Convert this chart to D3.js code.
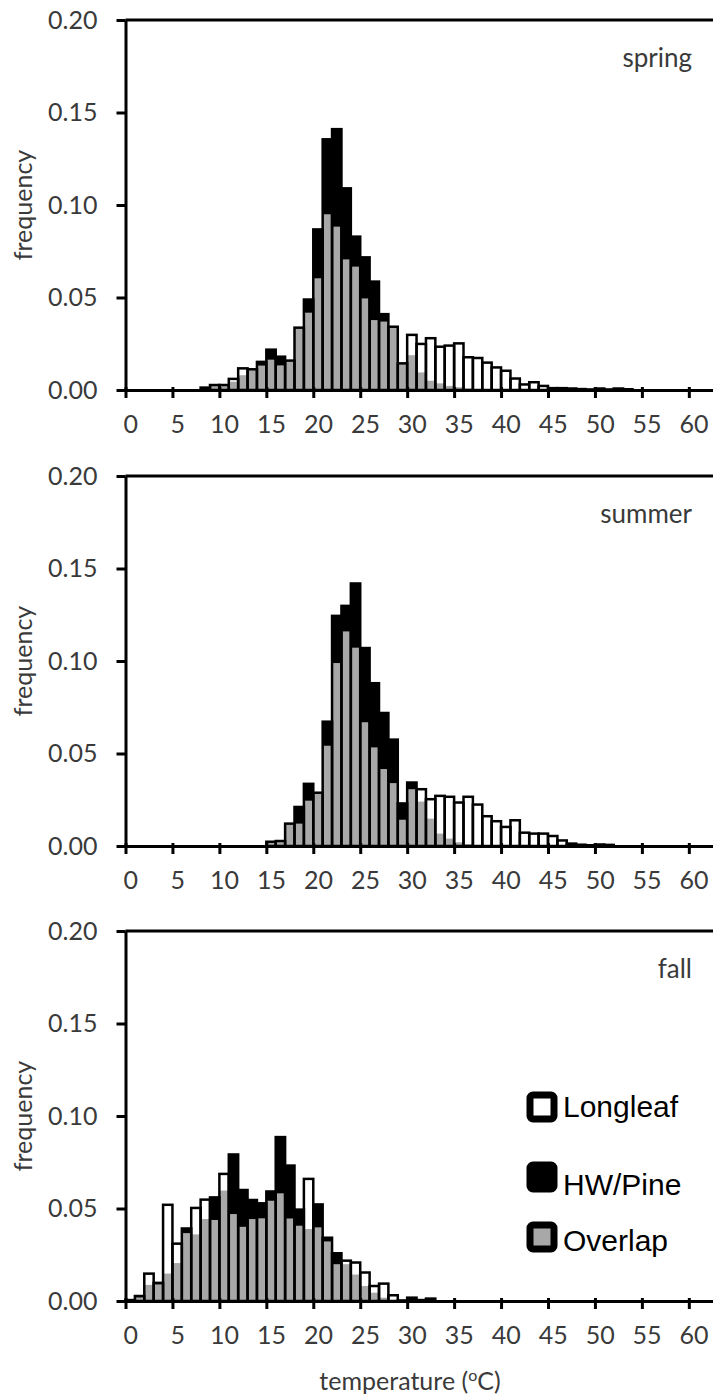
<!DOCTYPE html>
<html>
<head>
<meta charset="utf-8">
<script src="https://cdn.jsdelivr.net/npm/d3@7"></script>
<style>
  html, body { margin: 0; padding: 0; background: #fff; }
  svg { display: block; }
</style>
</head>
<body>
<svg id="chart" width="713" height="1397"></svg>
<script>
// 1 °C temperature bins: bin k covers [k, k+1)
const bins = d3.range(0, 63);

const seasons = ["spring", "summer", "fall"];

// Relative frequency per bin, Longleaf stands
const longleafSpring = [0,0,0,0,0,0,0,0,0.0013,0.0027,0.0027,0.006,0.0117,0.0112,0.0132,0.0164,0.0133,0.0159,0.0337,0.0418,0.0604,0.095,0.0883,0.0706,0.0667,0.0495,0.0378,0.037,0.0342,0.0144,0.0298,0.0249,0.028,0.0234,0.024,0.0252,0.0177,0.0173,0.0148,0.0122,0.0104,0.0062,0.003,0.0042,0.0022,0.001,0.001,0.0008,0.0005,0.0003,0.0008,0.0003,0.0008,0.0004,0,0,0,0,0,0,0,0,0];
const longleafSummer = [0,0,0,0,0,0,0,0,0,0,0,0,0,0,0,0.0023,0.0027,0.0121,0.0121,0.0245,0.0288,0.0542,0.0989,0.116,0.1072,0.0669,0.0533,0.0416,0.034,0.0142,0.0307,0.0307,0.0253,0.0271,0.0266,0.0235,0.0266,0.0224,0.0161,0.0134,0.0103,0.0139,0.0072,0.0067,0.0067,0.0054,0.003,0.0013,0.0007,0.0004,0.0008,0.0006,0,0,0,0,0,0,0,0,0,0,0];
const longleafFall = [0.0005,0.002,0.0148,0.009,0.052,0.031,0.0367,0.0503,0.0548,0.0438,0.0687,0.047,0.0401,0.0443,0.0447,0.0542,0.0582,0.0446,0.0407,0.066,0.0398,0.0322,0.0199,0.0218,0.0208,0.0154,0.0081,0.0094,0.0031,0.0003,0.0005,0.0003,0.0003,0,0,0,0,0,0,0,0,0,0,0,0,0,0,0,0,0,0,0,0,0,0,0,0,0,0,0,0,0,0];

// Relative frequency per bin, hardwood/pine stands
const hwPineSpring = [0,0,0,0,0,0,0,0,0.0013,0.0027,0.0027,0.0045,0.008,0.0112,0.0152,0.0218,0.018,0.0159,0.0337,0.0489,0.0868,0.1355,0.141,0.109,0.0829,0.0717,0.0586,0.041,0.0342,0.0144,0.0188,0.0095,0.005,0.0036,0.0022,0.0015,0.0008,0.0005,0,0,0,0,0,0,0,0,0,0,0,0,0,0,0,0,0,0,0,0,0,0,0,0,0];
const hwPineSummer = [0,0,0,0,0,0,0,0,0,0,0,0,0,0,0,0.0023,0.0027,0.0121,0.0211,0.0336,0.0288,0.0672,0.1244,0.1298,0.1419,0.107,0.088,0.0719,0.0575,0.023,0.0343,0.024,0.0148,0.0067,0.004,0.002,0.001,0.0005,0,0,0,0,0,0,0,0,0,0,0,0,0,0,0,0,0,0,0,0,0,0,0,0,0];
const hwPineFall = [0.0005,0.0027,0.0087,0.0098,0.0148,0.0205,0.0392,0.036,0.0443,0.056,0.0597,0.0792,0.06,0.0546,0.0528,0.0592,0.0886,0.0732,0.0494,0.0389,0.0522,0.0342,0.0258,0.0199,0.0143,0.0081,0.0045,0.0018,0.0005,0.0003,0.0018,0.0005,0.0013,0,0,0,0,0,0,0,0,0,0,0,0,0,0,0,0,0,0,0,0,0,0,0,0,0,0,0,0,0,0];

const longleafBySeason = [longleafSpring, longleafSummer, longleafFall];
const hwPineBySeason = [hwPineSpring, hwPineSummer, hwPineFall];

const yTicks = [0, 0.05, 0.10, 0.15, 0.20];
const xTicks = d3.range(0, 61, 5);
const legendLabels = ["Longleaf", "HW/Pine", "Overlap"];

// ---- layout ----
const svg = d3.select("#chart");
const panelTop = [20, 476, 931];
const panelH = 370;
const tickFont = "Lato, 'Open Sans', sans-serif";
const tickColor = "#3a3a3a";
const GREY = "#a8a8a8";

const x = d3.scaleLinear().domain([0, 63]).range([125.5, 717]);
const binW = x(1) - x(0);

seasons.forEach((season, si) => {
  const top = panelTop[si];
  const y = d3.scaleLinear().domain([0, 0.2]).range([top + panelH, top]);
  const g = svg.append("g").attr("class", "panel-" + season);

  const rows = bins.map(k => {
    const ll = longleafBySeason[si][k];
    const hw = hwPineBySeason[si][k];
    return { k, ll, hw, hi: Math.max(ll, hw), lo: Math.min(ll, hw) };
  }).filter(d => d.hi > 0);

  // taller of the two series: white for Longleaf, black for HW/Pine
  g.append("g").selectAll("rect").data(rows).join("rect")
    .attr("x", d => x(d.k))
    .attr("width", binW)
    .attr("y", d => y(d.hi))
    .attr("height", d => y(0) - y(d.hi))
    .attr("fill", d => d.ll > d.hw ? "#fff" : (d.hw > d.ll ? "#000" : GREY));

  // shared part of both distributions
  g.append("g").selectAll("rect").data(rows.filter(d => d.lo > 0)).join("rect")
    .attr("x", d => x(d.k))
    .attr("width", binW)
    .attr("y", d => y(d.lo))
    .attr("height", d => y(0) - y(d.lo))
    .attr("fill", GREY);

  // bar outlines
  g.append("g").selectAll("rect").data(rows).join("rect")
    .attr("x", d => x(d.k))
    .attr("width", binW)
    .attr("y", d => y(d.hi))
    .attr("height", d => y(0) - y(d.hi))
    .attr("fill", "none")
    .attr("stroke", "#000")
    .attr("stroke-width", 2.5);

  // top border of the plot area
  g.append("line")
    .attr("x1", x(0)).attr("x2", x(63))
    .attr("y1", y(0.2)).attr("y2", y(0.2))
    .attr("stroke", "#000").attr("stroke-width", 3);

  // y axis
  const ya = g.append("g")
    .attr("transform", `translate(${x(0)},0)`)
    .call(d3.axisLeft(y).tickValues(yTicks).tickFormat(d3.format(".2f"))
      .tickSize(9).tickSizeOuter(0).tickPadding(19));
  ya.select(".domain").attr("stroke-width", 3);
  ya.selectAll(".tick line").attr("stroke-width", 3);
  ya.selectAll(".tick text")
    .attr("font-family", tickFont).attr("font-size", 25)
    .attr("fill", tickColor);

  // x axis, labels centred on their bins
  const xa = g.append("g")
    .attr("transform", `translate(0,${y(0)})`)
    .call(d3.axisBottom(x).tickValues(xTicks).tickFormat(d3.format("d"))
      .tickSize(8).tickSizeOuter(0).tickPadding(17));
  xa.select(".domain").attr("stroke-width", 3);
  xa.selectAll(".tick line").attr("stroke-width", 3).attr("y1", -3);
  xa.selectAll(".tick text")
    .attr("x", binW / 2)
    .attr("font-family", tickFont).attr("font-size", 25)
    .attr("fill", tickColor);

  // y title
  g.append("text")
    .attr("transform", `translate(32,${top + panelH / 2}) rotate(-90)`)
    .attr("text-anchor", "middle")
    .attr("font-family", tickFont).attr("font-size", 25)
    .attr("fill", tickColor)
    .text("frequency");

  // season name
  g.append("text")
    .attr("x", 692).attr("y", top + 47)
    .attr("text-anchor", "end")
    .attr("font-family", tickFont).attr("font-size", 26)
    .attr("fill", tickColor)
    .text(season);
});

// x title
const xt = svg.append("text")
  .attr("x", 410).attr("y", 1390)
  .attr("text-anchor", "middle")
  .attr("font-family", tickFont).attr("font-size", 25)
  .attr("fill", tickColor);
xt.append("tspan").text("temperature (");
xt.append("tspan").attr("font-size", 16).attr("dy", -9).text("o");
xt.append("tspan").attr("dy", 9).text("C)");

// legend
const legendFill = ["#fff", "#000", GREY];
const legendY = [1107, 1177, 1237];
const lg = svg.append("g").attr("class", "legend");
legendLabels.forEach((lab, i) => {
  lg.append("rect")
    .attr("x", 530).attr("y", legendY[i] - 12)
    .attr("width", 24).attr("height", 24)
    .attr("rx", 3)
    .attr("fill", legendFill[i])
    .attr("stroke", "#000").attr("stroke-width", 7);
  lg.append("text")
    .attr("x", 563).attr("y", [1117, 1195, 1251][i])
    .attr("font-family", "'Liberation Sans', Arial, sans-serif")
    .attr("font-size", 30)
    .attr("fill", "#000")
    .text(lab);
});
</script>
</body>
</html>
